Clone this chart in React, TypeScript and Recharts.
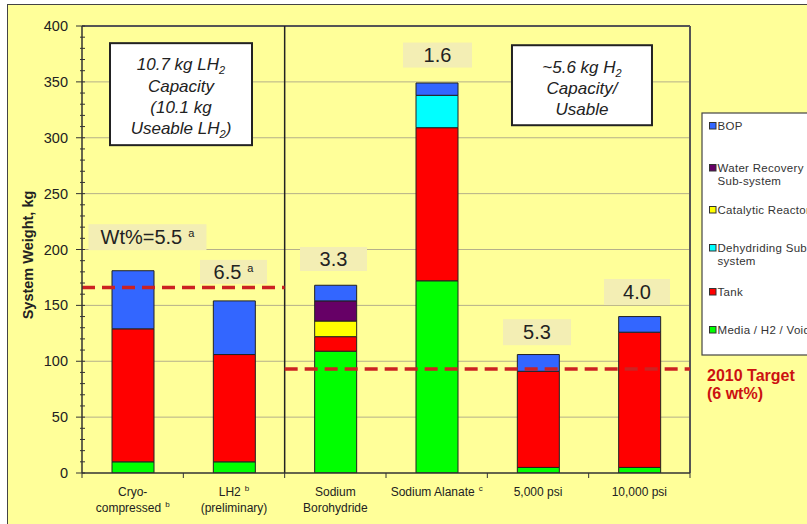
import React from 'react';
import {
  ComposedChart,
  Bar,
  XAxis,
  YAxis,
  CartesianGrid,
  ReferenceLine,
  ReferenceDot,
} from 'recharts';

// ---------- data ----------
const categories = ['Cryo-compressed', 'LH2', 'Sodium Borohydride', 'Sodium Alanate', '5,000 psi', '10,000 psi'];
const mediaH2Void = [10, 10, 109, 172, 5, 5];
const tank = [119, 96, 13, 137, 86, 121];
const dehydridingSubsystem = [null, null, null, 29, null, null];
const catalyticReactor = [null, null, 14, null, null, null];
const waterRecoverySubsystem = [null, null, 18, null, null, null];
const bop = [52, 48, 14, 11, 15, 14];

const categoryLabelLines = [
  ['Cryo-', 'compressed'],
  ['LH2', '(preliminary)'],
  ['Sodium', 'Borohydride'],
  ['Sodium Alanate'],
  ['5,000 psi'],
  ['10,000 psi'],
];
const categoryLabelSup = [
  { line: 1, text: 'b' },
  { line: 0, text: 'b' },
  null,
  { line: 0, text: 'c' },
  null,
  null,
];

const majorTicks = [0, 50, 100, 150, 200, 250, 300, 350, 400];
const gridValues = [50, 100, 150, 200, 250, 300, 350];
const minorTicks = Array.from({ length: 41 }, (_, i) => i * 10);

// target lines (kg)
const target2010Weight = 93;
const cryoLH2WtLine = 166;

// wt% tags: text, superscript, anchor category + shift (in band widths), value (kg)
const wtTags = [
  { text: 'Wt%=5.5', sup: 'a', cat: 0, shift: 0.146, y: 211, w: 118, h: 26 },
  { text: '6.5', sup: 'a', cat: 1, shift: -0.005, y: 180, w: 67, h: 24 },
  { text: '3.3', sup: '', cat: 2, shift: -0.018, y: 191.5, w: 67, h: 24 },
  { text: '1.6', sup: '', cat: 3, shift: 0.008, y: 374, w: 69, h: 25 },
  { text: '5.3', sup: '', cat: 4, shift: -0.01, y: 126, w: 68, h: 26 },
  { text: '4.0', sup: '', cat: 5, shift: -0.023, y: 162, w: 66, h: 26 },
];

type Seg = { t: string; sub?: boolean };
const noteBoxes: { cat: number; shift: number; y: number; w: number; h: number; lines: Seg[][]; offs: number[] }[] = [
  {
    cat: 0,
    shift: 0.477,
    y: 339,
    w: 142,
    h: 102,
    lines: [
      [{ t: '10.7 kg LH' }, { t: '2', sub: true }],
      [{ t: 'Capacity' }],
      [{ t: '(10.1 kg' }],
      [{ t: 'Useable LH' }, { t: '2', sub: true }, { t: ')' }],
    ],
    offs: [-24, -2, 19, 40],
  },
  {
    cat: 4,
    shift: 0.434,
    y: 347,
    w: 140,
    h: 80,
    lines: [
      [{ t: '~5.6 kg H' }, { t: '2', sub: true }],
      [{ t: 'Capacity/' }],
      [{ t: 'Usable' }],
    ],
    offs: [-12, 9, 30],
  },
];

const legendItems = [
  { lines: ['BOP'], color: '#3366FF', y: 126 },
  { lines: ['Water Recovery', 'Sub-system'], color: '#660066', y: 168 },
  { lines: ['Catalytic Reactor'], color: '#FFFF00', y: 210 },
  { lines: ['Dehydriding Sub-', 'system'], color: '#00FFFF', y: 248 },
  { lines: ['Tank'], color: '#FF0000', y: 292 },
  { lines: ['Media / H2 / Void'], color: '#00FF00', y: 330 },
];

const data = categories.map((name, i) => ({
  name,
  media: mediaH2Void[i],
  tank: tank[i],
  dehyd: dehydridingSubsystem[i],
  catalytic: catalyticReactor[i],
  water: waterRecoverySubsystem[i],
  bop: bop[i],
}));

// ---------- layout ----------
const W = 807;
const H = 524;
const PLOT_LEFT = 82;
const PLOT_RIGHT = 690;
const PLOT_TOP = 26;
const PLOT_BOTTOM = 473;
const Y_AXIS_W = 60;
const X_AXIS_H = 45;
const BAND = (PLOT_RIGHT - PLOT_LEFT) / categories.length;
const FONT = '"Liberation Sans", Arial, sans-serif';
const BG = '#FFFF99';

function CategoryTick(props: any) {
  const { x, y, payload } = props;
  const i = categories.indexOf(payload.value);
  const lines = categoryLabelLines[i] || [];
  const sup = categoryLabelSup[i];
  return (
    <g>
      <line x1={x - BAND / 2} x2={x - BAND / 2} y1={y} y2={y + 5} stroke="#333" strokeWidth={1} />
      {i === categories.length - 1 && (
        <line x1={x + BAND / 2} x2={x + BAND / 2} y1={y} y2={y + 5} stroke="#333" strokeWidth={1} />
      )}
      {lines.map((ln, li) => (
        <text
          key={li}
          x={x}
          y={y + 22.5 + li * 16.5}
          textAnchor="middle"
          fontSize={12}
          fill="#222"
          fontFamily={FONT}
        >
          {ln}
          {sup && sup.line === li && (
            <tspan dx={4} dy={-5} fontSize={8}>
              {sup.text}
            </tspan>
          )}
        </text>
      ))}
    </g>
  );
}

function WeightTick(props: any) {
  const { x, y, payload } = props;
  const v = payload.value as number;
  const major = majorTicks.includes(v);
  return (
    <g>
      {major ? (
        <>
          <line x1={x - 6} x2={x + 3} y1={y} y2={y} stroke="#333" strokeWidth={1} />
          <text x={x - 14} y={y + 5} textAnchor="end" fontSize={14.5} fill="#222" fontFamily={FONT}>
            {v}
          </text>
        </>
      ) : (
        <line x1={x - 2} x2={x + 3} y1={y} y2={y} stroke="#333" strokeWidth={1} />
      )}
    </g>
  );
}

function renderSegs(segs: Seg[]) {
  const out: React.ReactNode[] = [];
  let shifted = false;
  segs.forEach((s, k) => {
    if (s.sub) {
      out.push(
        <tspan key={k} dy={4} fontSize={11}>
          {s.t}
        </tspan>
      );
      shifted = true;
    } else {
      out.push(
        <tspan key={k} dy={shifted ? -4 : 0}>
          {s.t}
        </tspan>
      );
      shifted = false;
    }
  });
  return out;
}

// line shapes that extend a category-anchored segment to band edges
const edgeLine = (dx1: number, dx2: number, style: any) => (p: any) => (
  <line x1={p.x1 + dx1} y1={p.y1} x2={p.x2 + dx2} y2={p.y2} {...style} />
);

const dashStyle = { stroke: '#CC2222', strokeWidth: 3.5, strokeDasharray: '13 7', fill: 'none' };

export default function App() {
  return (
    <div
      style={{
        position: 'absolute',
        left: 0,
        top: 0,
        width: W,
        height: H,
        overflow: 'hidden',
        background: '#FFFFFF',
      }}
    >
      <div
        style={{
          position: 'absolute',
          left: 7,
          top: 4,
          width: W + 20,
          height: H + 20,
          background: BG,
          border: '1.5px solid #444',
        }}
      />
      <div style={{ position: 'absolute', left: 0, top: 0 }}>
        <ComposedChart
          width={W}
          height={H}
          data={data}
          margin={{ top: PLOT_TOP, right: W - PLOT_RIGHT, bottom: H - PLOT_BOTTOM - X_AXIS_H, left: PLOT_LEFT - Y_AXIS_W }}
          barSize={42}
        >
          <CartesianGrid horizontal vertical={false} horizontalValues={gridValues} stroke="#B5B08A" strokeWidth={1} />
          <XAxis
            dataKey="name"
            type="category"
            height={X_AXIS_H}
            interval={0}
            tickLine={false}
            tickSize={0}
            tickMargin={0}
            tick={<CategoryTick />}
            axisLine={{ stroke: '#333', strokeWidth: 1.5 }}
          />
          <YAxis
            type="number"
            domain={[0, 400]}
            ticks={minorTicks}
            interval={0}
            width={Y_AXIS_W}
            tickLine={false}
            tickSize={0}
            tickMargin={0}
            tick={<WeightTick />}
            axisLine={{ stroke: '#333', strokeWidth: 1.5 }}
            allowDataOverflow
          />
          <Bar dataKey="media" stackId="s" fill="#00FF00" stroke="#222" strokeWidth={1} isAnimationActive={false} />
          <Bar dataKey="tank" stackId="s" fill="#FF0000" stroke="#222" strokeWidth={1} isAnimationActive={false} />
          <Bar dataKey="dehyd" stackId="s" fill="#00FFFF" stroke="#222" strokeWidth={1} isAnimationActive={false} />
          <Bar dataKey="catalytic" stackId="s" fill="#FFFF00" stroke="#222" strokeWidth={1} isAnimationActive={false} />
          <Bar dataKey="water" stackId="s" fill="#660066" stroke="#222" strokeWidth={1} isAnimationActive={false} />
          <Bar dataKey="bop" stackId="s" fill="#3366FF" stroke="#222" strokeWidth={1} isAnimationActive={false} />

          {/* plot frame top */}
          <ReferenceLine y={400} stroke="#555" strokeWidth={2} ifOverflow="visible" />
          {/* plot frame right */}
          <ReferenceLine
            segment={[
              { x: categories[5], y: 0 },
              { x: categories[5], y: 400 },
            ]}
            ifOverflow="visible"
            shape={edgeLine(BAND / 2, BAND / 2, { stroke: '#555', strokeWidth: 2 })}
          />
          {/* separator */}
          <ReferenceLine
            segment={[
              { x: categories[1], y: 0 },
              { x: categories[1], y: 400 },
            ]}
            ifOverflow="visible"
            shape={edgeLine(BAND / 2, BAND / 2, { stroke: '#222', strokeWidth: 1.5 })}
          />

          {/* target lines */}
          <ReferenceLine
            segment={[
              { x: categories[0], y: cryoLH2WtLine },
              { x: categories[1], y: cryoLH2WtLine },
            ]}
            ifOverflow="visible"
            shape={edgeLine(-BAND / 2, BAND / 2, dashStyle)}
          />
          <ReferenceLine
            segment={[
              { x: categories[2], y: target2010Weight },
              { x: categories[5], y: target2010Weight },
            ]}
            ifOverflow="visible"
            shape={edgeLine(-BAND / 2, BAND / 2, dashStyle)}
          />

          {wtTags.map((t, i) => (
            <ReferenceDot
              key={'tag' + i}
              x={categories[t.cat]}
              y={t.y}
              r={1}
              ifOverflow="visible"
              shape={(p: any) => {
                const cx = p.cx + t.shift * BAND;
                return (
                  <g>
                    <rect x={cx - t.w / 2} y={p.cy - t.h / 2} width={t.w} height={t.h} fill="#F3EEB4" />
                    <text x={cx} y={p.cy + 7} textAnchor="middle" fontSize={20} fill="#222" fontFamily={FONT}>
                      {t.text}
                      {t.sup && (
                        <tspan dx={6} dy={-7} fontSize={11}>
                          {t.sup}
                        </tspan>
                      )}
                    </text>
                  </g>
                );
              }}
            />
          ))}

          {noteBoxes.map((b, i) => (
            <ReferenceDot
              key={'box' + i}
              x={categories[b.cat]}
              y={b.y}
              r={1}
              ifOverflow="visible"
              shape={(p: any) => {
                const cx = p.cx + b.shift * BAND;
                return (
                  <g>
                    <rect
                      x={cx - b.w / 2}
                      y={p.cy - b.h / 2}
                      width={b.w}
                      height={b.h}
                      fill="#FFFFFF"
                      stroke="#222"
                      strokeWidth={2}
                    />
                    {b.lines.map((segs, li) => (
                      <text
                        key={li}
                        x={cx}
                        y={p.cy + b.offs[li]}
                        textAnchor="middle"
                        fontSize={17}
                        fontStyle="italic"
                        fill="#222"
                        fontFamily={FONT}
                      >
                        {renderSegs(segs)}
                      </text>
                    ))}
                  </g>
                );
              }}
            />
          ))}
        </ComposedChart>
      </div>
      <svg
        width={W}
        height={H}
        style={{ position: 'absolute', left: 0, top: 0, pointerEvents: 'none' }}
      >
        <text
          x={0}
          y={0}
          transform="translate(32.5,255) rotate(-90)"
          textAnchor="middle"
          fontSize={14.5}
          fontWeight="bold"
          fill="#222"
          fontFamily={FONT}
        >
          System Weight, kg
        </text>
        <rect x={702} y={113} width={130} height={242} fill="#FFFFFF" stroke="#444" strokeWidth={1.2} />
        {legendItems.map((it, i) => (
          <g key={i}>
            <rect x={709.5} y={it.y - 3.5} width={6.5} height={6.5} fill={it.color} stroke="#333" strokeWidth={1} />
            {it.lines.map((ln, li) => (
              <text
                key={li}
                x={717.5}
                y={it.y + 4 + li * 13}
                fontSize={11.5}
                letterSpacing={0.3}
                fill="#333"
                fontFamily={FONT}
              >
                {ln}
              </text>
            ))}
          </g>
        ))}
        <text x={707} y={381} fontSize={16} fontWeight="bold" fill="#CC1111" fontFamily={FONT}>
          2010 Target
        </text>
        <text x={707} y={399} fontSize={16} fontWeight="bold" fill="#CC1111" fontFamily={FONT}>
          (6 wt%)
        </text>
      </svg>
    </div>
  );
}
